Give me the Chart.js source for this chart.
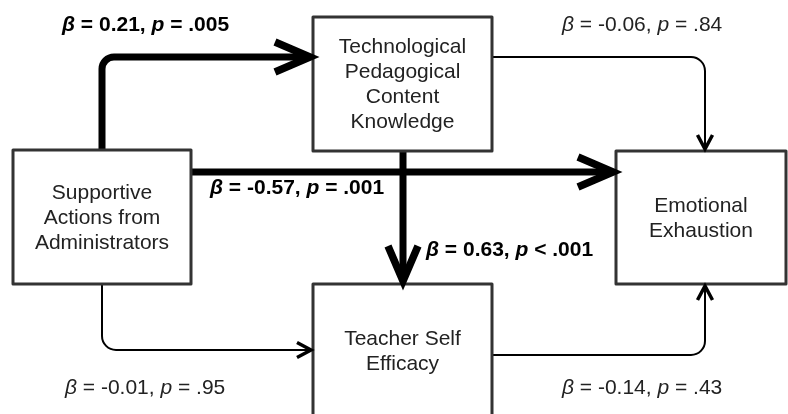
<!DOCTYPE html>
<html><head><meta charset="utf-8">
<script src="https://cdn.jsdelivr.net/npm/chart.js@4"></script>
<style>html,body{margin:0;padding:0;background:#fff;}canvas{display:block;}</style>
</head><body>
<canvas id="c" width="788" height="414"></canvas>
<script>
// ---- data ----
const nodeLabels = [
  ["Supportive", "Actions from", "Administrators"],
  ["Technological", "Pedagogical", "Content", "Knowledge"],
  ["Teacher Self", "Efficacy"],
  ["Emotional", "Exhaustion"]
];
const pathFrom = [0, 0, 1, 0, 1, 2];
const pathTo   = [1, 3, 2, 2, 3, 3];
const betas    = ["0.21", "-0.57", "0.63", "-0.01", "-0.06", "-0.14"];
const pOps     = ["=", "=", "<", "=", "=", "="];
const pValues  = [".005", ".001", ".001", ".95", ".84", ".43"];
const significant = [true, true, true, false, false, false];

// ---- layout (diagram space = 788 x 414) ----
const nodeBoxes = [ // [left, top, right, bottom]
  [13, 150, 191, 284],
  [313, 17, 492, 151],
  [313, 284, 492, 420],
  [616, 151, 786, 284]
];
const edgeRoutes = [
  [[102,150],[102,57],[313,57]],
  [[191,172],[616,172]],
  [[403,151],[403,284]],
  [[102,284],[102,350],[313,350]],
  [[492,57],[705,57],[705,151]],
  [[492,355],[705,355],[705,284]]
];
const labelAnchors = [[62,25],[210,188],[426,250],[65,388],[562,25],[562,388]];

const diagramPlugin = {
  id: 'diagram',
  afterDraw(chart) {
    const ctx = chart.ctx, xs = chart.scales.x, ys = chart.scales.y;
    const P = (p) => [xs.getPixelForValue(p[0]), ys.getPixelForValue(p[1])];
    ctx.save();
    // edges
    edgeRoutes.forEach((route, i) => {
      const thick = significant[i];
      const pts = route.map(P);
      const r = thick ? 12 : 14;
      ctx.beginPath();
      ctx.strokeStyle = '#000';
      ctx.lineWidth = thick ? 7 : 2;
      ctx.lineCap = 'butt';
      ctx.lineJoin = 'round';
      ctx.moveTo(pts[0][0], pts[0][1]);
      for (let k = 1; k < pts.length - 1; k++) ctx.arcTo(pts[k][0], pts[k][1], pts[k+1][0], pts[k+1][1], r);
      const last = pts[pts.length-1], prev = pts[pts.length-2];
      const dx = last[0]-prev[0], dy = last[1]-prev[1], L = Math.hypot(dx,dy);
      const ux = dx/L, uy = dy/L;
      const back = thick ? 4 : 1;
      ctx.lineTo(last[0]-ux*back, last[1]-uy*back);
      ctx.stroke();
    });
    // boxes
    nodeBoxes.forEach((b, i) => {
      const [x1,y1] = P([b[0],b[1]]), [x2,y2] = P([b[2],b[3]]);
      ctx.fillStyle = '#fff';
      ctx.fillRect(x1, y1, x2-x1, y2-y1);
      ctx.strokeStyle = '#333';
      ctx.lineWidth = 3;
      ctx.strokeRect(x1, y1, x2-x1, y2-y1);
      ctx.fillStyle = '#222';
      ctx.font = '21px "Liberation Sans", Arial, sans-serif';
      ctx.textAlign = 'center';
      ctx.textBaseline = 'middle';
      const lines = nodeLabels[i];
      const cx = (x1+x2)/2, cy = (y1+Math.min(y2, 418))/2 + 1;
      const lh = 25;
      lines.forEach((t, k) => ctx.fillText(t, cx, cy + (k - (lines.length-1)/2)*lh));
    });
    // arrowheads
    edgeRoutes.forEach((route, i) => {
      const thick = significant[i];
      const pts = route.map(P);
      const last = pts[pts.length-1], prev = pts[pts.length-2];
      const dx = last[0]-prev[0], dy = last[1]-prev[1], L = Math.hypot(dx,dy);
      const ux = dx/L, uy = dy/L, nx = -uy, ny = ux;
      const len = thick ? 35 : 14, hw = thick ? 15 : 7.5;
      const tip = [last[0]-ux*(thick?3:2), last[1]-uy*(thick?3:2)];
      ctx.beginPath();
      ctx.strokeStyle = '#000';
      ctx.lineWidth = thick ? 7.5 : 3.5;
      ctx.lineJoin = 'miter';
      ctx.miterLimit = 10;
      ctx.lineCap = 'butt';
      ctx.moveTo(tip[0]-ux*len+nx*hw, tip[1]-uy*len+ny*hw);
      ctx.lineTo(tip[0], tip[1]);
      ctx.lineTo(tip[0]-ux*len-nx*hw, tip[1]-uy*len-ny*hw);
      ctx.stroke();
    });
    // labels
    labelAnchors.forEach((a, i) => {
      const [x, y] = P(a);
      const w = significant[i] ? 'bold ' : '';
      const fam = '21px "Liberation Sans", Arial, sans-serif';
      const segs = [
        ['β', 'italic ' + w + fam],
        [' = ' + betas[i] + ', ', w + fam],
        ['p', 'italic ' + w + fam],
        [' ' + pOps[i] + ' ' + pValues[i], w + fam]
      ];
      ctx.fillStyle = significant[i] ? '#000' : '#222';
      ctx.textAlign = 'left';
      ctx.textBaseline = 'middle';
      let cx = x;
      segs.forEach(([t, f]) => { ctx.font = f; ctx.fillText(t, cx, y); cx += ctx.measureText(t).width; });
    });
    ctx.restore();
  }
};

new Chart(document.getElementById('c'), {
  type: 'scatter',
  data: { datasets: [{ data: nodeBoxes.map(b => ({x:(b[0]+b[2])/2, y:(b[1]+b[3])/2})), pointRadius: 0 }] },
  options: {
    responsive: false, animation: false,
    layout: { padding: 0 },
    plugins: { legend: { display: false }, tooltip: { enabled: false } },
    scales: {
      x: { type: 'linear', min: 0, max: 788, display: false },
      y: { type: 'linear', min: 0, max: 414, reverse: true, display: false }
    }
  },
  plugins: [diagramPlugin]
});
</script>
</body></html>
